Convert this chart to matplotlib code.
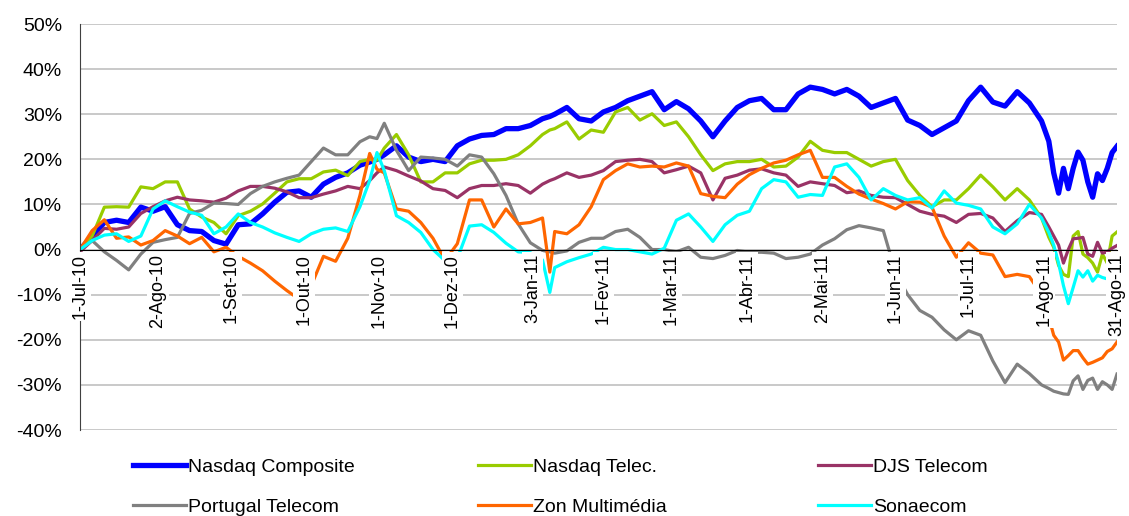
import matplotlib
matplotlib.use('Agg')
import matplotlib.pyplot as plt
import numpy as np

plt.rcParams['font.family'] = ['Liberation Sans', 'DejaVu Sans']

# dias desde 1-Jul-10
dias = [0, 5, 10, 15, 20, 25, 30, 35, 40, 45, 50, 55, 60, 65, 70, 75, 80, 85, 90, 95, 100, 105, 110, 115,
        119, 122,
        125, 130, 135, 140, 145, 150, 155, 160, 165, 170, 175, 180, 185, 190,
        193,
        195, 200, 205, 210, 215, 220, 225, 230, 235, 240, 245, 250, 255, 260, 265, 270, 275, 280, 285, 290,
        295, 300, 305, 310, 315, 320, 325, 330, 335, 340, 345, 350, 355, 360, 365, 370, 375, 380, 385, 390, 395,
        398,
        400, 402, 404, 406, 408, 410, 412, 414, 416, 418, 420, 422, 424, 426]

# variacao acumulada em %
nasdaq_comp = [0, 3, 6, 6.5, 6, 9.4, 8.5, 9.5, 5.5, 4.2, 4, 2, 1.2, 5.5, 5.7, 7.9, 10.5, 12.7, 13, 11.6, 14.5, 16, 17, 18.7,
               19.4, 20,
               21, 23, 20.5, 19.5, 20, 19.5, 23, 24.5, 25.3, 25.5, 26.8, 26.8, 27.5, 29,
               29.5,
               30, 31.5, 29, 28.5, 30.5, 31.5, 33, 34, 35, 31, 32.8, 31.2, 28.5, 25, 28.5, 31.5, 33, 33.5, 31, 31,
               34.5, 36, 35.5, 34.5, 35.5, 34, 31.5, 32.5, 33.5, 28.7, 27.5, 25.5, 27, 28.5, 33, 36, 32.7, 31.8, 35, 32.5, 28.5,
               24,
               17, 12.5, 18, 13.5, 18, 21.6, 19.8, 15, 11.6, 16.8, 15.3, 18, 21.5, 22.9]

nasdaq_telec = [0, 3, 9.4, 9.5, 9.4, 13.9, 13.5, 15, 15, 9, 7.2, 6, 3.5, 7.5, 8.5, 10.1, 12.5, 15, 15.7, 15.7, 17.2, 17.6, 16.4, 19.5,
                20, 19.8,
                22.5, 25.5, 21, 15, 15, 17, 17, 19, 19.8, 19.8, 20, 21, 23, 25.5,
                26.5,
                26.8, 28.3, 24.5, 26.5, 26, 30.5, 31.5, 28.7, 30.1, 27.5, 28.3, 25, 21, 17.5, 19, 19.5, 19.5, 20, 18.3, 18.5,
                20.5, 24, 22, 21.5, 21.5, 20, 18.5, 19.5, 20, 15.3, 12, 9.5, 11, 11, 13.5, 16.5, 13.9, 11, 13.5, 11, 7,
                2.7,
                0.5, -3.5, -5.5, -6, 3, 4, -1, -1.8, -3, -5, -1, -3, 3, 3.9]

djs_telecom = [-0.5, 2, 4.7, 4.5, 5, 8, 9.5, 10.8, 11.6, 11, 10.8, 10.5, 11.4, 13, 14, 14, 13.6, 12.8, 11.5, 11.5, 12.3, 13, 14, 13.5,
               15.3, 17,
               18.3, 17.5, 16.3, 15.2, 13.5, 13.1, 11.5, 13.5, 14.2, 14.2, 14.6, 14.2, 12.5, 14.5,
               15.3,
               15.7, 17, 16, 16.5, 17.5, 19.5, 19.8, 20, 19.5, 17, 17.7, 18.5, 17, 11, 15.8, 16.5, 17.6, 17.9, 17, 16.5,
               14, 15, 14.6, 14.2, 12.6, 13, 12, 11.6, 11.5, 10, 8.5, 7.8, 7.4, 6, 7.8, 8, 7, 4, 6.4, 8.2, 7.8,
               5,
               3, 1, -3, 0, 2.4, 2.5, 2.7, -1, -1.5, 1.6, -0.8, -0.5, 0.3, 0.9]

portugal_telecom = [0, 2, -0.5, -2.4, -4.5, -1, 1.6, 2.2, 2.7, 8, 8.7, 10.3, 10.2, 10, 12.4, 14, 15, 15.8, 16.5, 19.5, 22.5, 21, 21, 23.9,
                    25, 24.6,
                    28, 22, 17.5, 20.5, 20.3, 20, 18.5, 21, 20.5, 16.8, 12, 5.7, 1.5, -0.2,
                    -0.5,
                    -0.8, -0.3, 1.6, 2.5, 2.5, 4, 4.5, 2.7, 0, 0, -0.5, 0.5, -1.7, -2, -1.3, -0.2, -0.6, -0.6, -0.8, -2,
                    -1.7, -1, 1, 2.4, 4.4, 5.3, 4.8, 4.2, -5, -10, -13.5, -15, -17.8, -20, -18, -19, -24.7, -29.5, -25.4, -27.5, -30,
                    -30.8,
                    -31.4, -31.7, -32, -32.1, -29.1, -28, -31, -29, -28.5, -31, -29.3, -30, -31, -27.6]

zon_multimedia = [0, 4.2, 6.6, 2.5, 2.8, 1, 2, 4.2, 3, 1.3, 2.7, -0.5, 0.5, -1.5, -3, -4.7, -7, -9.1, -11, -8, -1.5, -2.6, 2.5, 12,
                  21.3, 17.8,
                  17, 9, 8.5, 6, 2.5, -2.4, 1.3, 11, 11, 5, 9, 5.7, 6, 7,
                  -5,
                  4, 3.5, 5.5, 9.5, 15.5, 17.5, 19, 18.3, 18.5, 18.3, 19.2, 18.5, 12.4, 11.8, 11.5, 14.5, 16.6, 18, 19.2, 19.8,
                  21, 22, 16, 16, 14, 12.3, 11.2, 10.2, 9, 10.6, 10.5, 9.4, 3, -1.7, 1.5, -0.8, -1.2, -6, -5.5, -6, -10,
                  -15,
                  -19, -20.5, -24.5, -23.5, -22.4, -22.4, -24, -25.4, -25, -24.5, -24, -22.6, -22, -20.5]

sonaecom = [0, 2, 3.2, 3.5, 1.8, 3, 9, 10.8, 9.5, 8.3, 7.6, 3.5, 5, 7.9, 6, 5, 3.7, 2.7, 1.8, 3.5, 4.5, 4.8, 4, 9.5,
            15.3, 21.5,
            17.5, 7.5, 6, 3.8, 0, -2.5, -2, 5.2, 5.5, 3.8, 1.4, -0.5, -0.7, -2.3,
            -9.5,
            -4, -2.7, -1.8, -1, 0.5, 0, 0, -0.5, -1, 0.3, 6.5, 7.9, 5, 1.8, 5.5, 7.6, 8.5, 13.5, 15.5, 15,
            11.6, 12.2, 12, 18.3, 19, 16, 11, 13.5, 12, 11, 11.5, 9.2, 13, 10.3, 9.8, 9, 5, 3.5, 5.7, 10, 7,
            3.8,
            1, -3, -8, -12, -8.4, -4.7, -6.1, -4.7, -7, -5.7, -6.2, -6.5, -4, -2]

nomes = ['Nasdaq Composite', 'Nasdaq Telec.', 'DJS Telecom',
         'Portugal Telecom', 'Zon Multimédia', 'Sonaecom']
cores = ['#0000ff', '#99cc00', '#993366', '#808080', '#ff6600', '#00ffff']

tick_datas = ['2010-07-01', '2010-08-02', '2010-09-01', '2010-10-01', '2010-11-01', '2010-12-01',
              '2011-01-03', '2011-02-01', '2011-03-01', '2011-04-01', '2011-05-02', '2011-06-01',
              '2011-07-01', '2011-08-01', '2011-08-31']
tick_labels = ['1-Jul-10', '2-Ago-10', '1-Set-10', '1-Out-10', '1-Nov-10', '1-Dez-10',
               '3-Jan-11', '1-Fev-11', '1-Mar-11', '1-Abr-11', '2-Mai-11', '1-Jun-11',
               '1-Jul-11', '1-Ago-11', '31-Ago-11']

inicio = np.datetime64('2010-07-01')
datas = inicio + np.array(dias)

fig = plt.figure(figsize=(11.29, 5.16), dpi=100)
ax = fig.add_axes([80 / 1129, 1 - 430 / 516, 1037 / 1129, 406 / 516])

series = [nasdaq_comp, nasdaq_telec, djs_telecom, portugal_telecom, zon_multimedia, sonaecom]
linhas = {}
for nome, cor, vals in zip(nomes, cores, series):
    lw = 3.8 if nome == 'Nasdaq Composite' else 2.3
    l, = ax.plot(datas, vals, color=cor, lw=lw, solid_joinstyle='round', label=nome)
    linhas[nome] = l

ax.set_xlim(inicio, np.datetime64('2011-08-31'))
ax.set_ylim(-40, 50)

# spines antes dos ticks (set_position faz reset dos ticks)
ax.spines['top'].set_visible(False)
ax.spines['right'].set_visible(False)
ax.spines['left'].set_color('#404040')
ax.spines['bottom'].set_position(('data', 0))
ax.spines['bottom'].set_color('black')

yt = list(range(-40, 51, 10))
ax.set_yticks(yt)
ax.set_yticklabels([f'{v}%' for v in yt], fontsize=14)
ax.yaxis.grid(True, color='#c0c0c0', lw=1.2)
ax.tick_params(axis='y', length=0, pad=13)

ax.set_xticks(np.array(tick_datas, dtype='datetime64[D]'))
ax.set_xticklabels(tick_labels, fontsize=13)
ax.tick_params(axis='x', length=0, pad=3, labelrotation=90)
for t in ax.get_xticklabels():
    t.set_bbox(dict(facecolor='white', edgecolor='none', pad=1.5))

ax.set_axisbelow(True)
ax.xaxis.set_zorder(5)

# legenda em 3 colunas, como no Excel
colunas = [('Nasdaq Composite', 'Portugal Telecom'),
           ('Nasdaq Telec.', 'Zon Multimédia'),
           ('DJS Telecom', 'Sonaecom')]
xs = [133, 478, 818]
for x0, par in zip(xs, colunas):
    fig.legend([linhas[n] for n in par], par, loc='upper left',
               bbox_to_anchor=(x0 / 1129, 1 - 458 / 516), frameon=False,
               fontsize=14, handlelength=2.7, handletextpad=0.15,
               labelspacing=1.16, borderpad=0, borderaxespad=0)

fig.savefig('out.png', dpi=100)
